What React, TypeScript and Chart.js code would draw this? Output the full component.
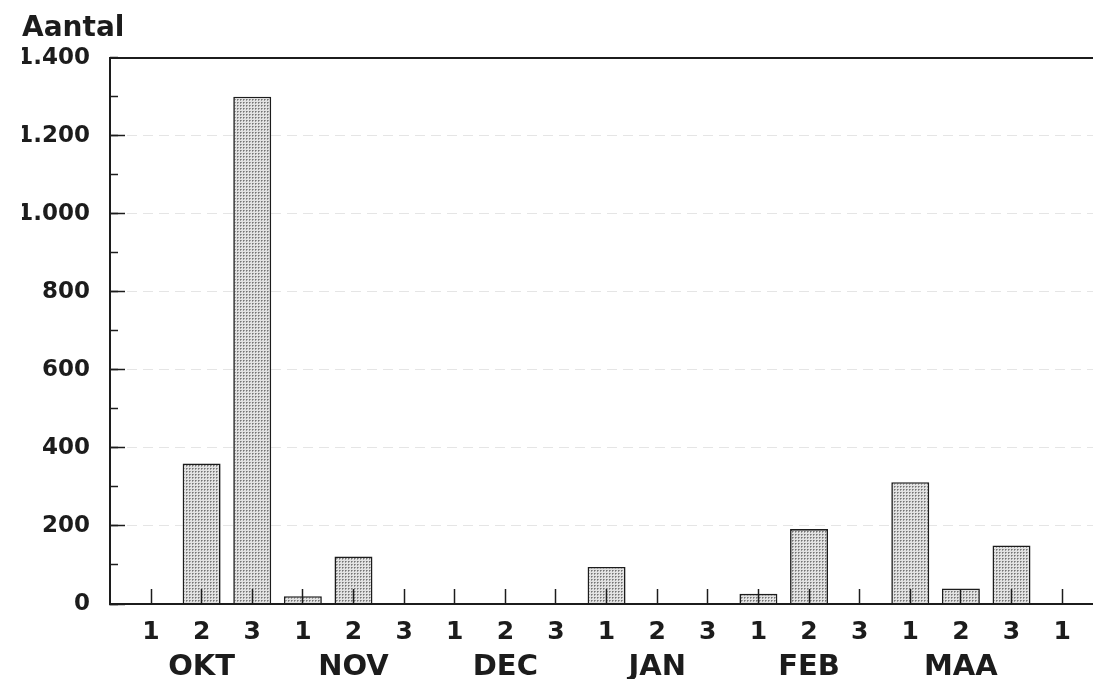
import React, { useEffect, useRef } from "react";
import { Chart, registerables } from "chart.js";

Chart.register(...registerables);

const decadeLabels = ["1", "2", "3", "1", "2", "3", "1", "2", "3", "1", "2", "3", "1", "2", "3", "1", "2", "3", "1"];
const monthLabels = ["OKT", "NOV", "DEC", "JAN", "FEB", "MAA"];
const counts = [0, 360, 1300, 20, 122, 0, 0, 0, 0, 95, 0, 0, 26, 192, 0, 312, 40, 150, 0];
const yMax = 1400;
const yMajorStep = 200;
const yMinorStep = 100;
const yTitle = "Aantal";

const FONT = "'DejaVu Sans', 'Liberation Sans', Arial, sans-serif";
const INK = "#1c1c1c";

function fmt(v: number): string {
  return String(Math.round(v)).replace(/\B(?=(\d{3})+(?!\d))/g, ".");
}

function makePattern(ctx: CanvasRenderingContext2D): CanvasPattern | string {
  const c = document.createElement("canvas");
  c.width = 3;
  c.height = 3;
  const p = c.getContext("2d");
  if (!p) return "#c0c0c0";
  p.fillStyle = "#e2e2e2";
  p.fillRect(0, 0, 3, 3);
  p.fillStyle = "#747474";
  p.fillRect(0, 0, 1, 1);
  p.fillStyle = "#9e9e9e";
  p.fillRect(1, 0, 1, 1);
  p.fillRect(0, 1, 1, 1);
  return ctx.createPattern(c, "repeat") || "#c0c0c0";
}

export default function App() {
  const ref = useRef<HTMLCanvasElement | null>(null);

  useEffect(() => {
    const canvas = ref.current;
    if (!canvas) return;
    const ctx = canvas.getContext("2d");
    if (!ctx) return;
    const pattern = makePattern(ctx);
    const n = decadeLabels.length;
    const xMin = -0.81;
    const xMax = n - 1 + 0.61;

    const chart = new Chart(ctx, {
      type: "bar",
      data: {
        datasets: [
          {
            data: counts.map((v, i) => ({ x: i, y: v })),
            backgroundColor: pattern as any,
            borderColor: INK,
            borderWidth: 1.6,
            barPercentage: 0.75,
            categoryPercentage: 1,
            xAxisID: "x",
            yAxisID: "y",
          },
        ],
      },
      options: {
        animation: false,
        responsive: false,
        devicePixelRatio: 1,
        layout: { padding: { left: 22, right: 0, top: 0, bottom: 0 } },
        plugins: {
          legend: { display: false },
          tooltip: { enabled: false },
          title: {
            display: true,
            text: yTitle,
            align: "start",
            color: INK,
            font: { family: FONT, size: 28, weight: "bold" },
            padding: { top: 12, bottom: 12 },
          },
        },
        scales: {
          x: {
            type: "linear",
            position: "bottom",
            weight: 0,
            min: xMin,
            max: xMax,
            offset: false,
            afterBuildTicks: (s: any) => {
              s.ticks = decadeLabels.map((_, i) => ({ value: i }));
            },
            afterFit: (s: any) => {
              s.height = 40;
              s.paddingLeft = 0;
              s.paddingRight = 0;
            },
            ticks: {
              autoSkip: false,
              maxRotation: 0,
              padding: 28,
              color: INK,
              font: { family: FONT, size: 25, weight: "bold" },
              callback: (v: any) => decadeLabels[Math.round(Number(v))] ?? "",
            },
            grid: {
              offset: false,
              drawOnChartArea: false,
              drawTicks: true,
              tickLength: -15,
              tickColor: INK,
              tickWidth: 1.5,
              z: 1,
            },
            border: { display: true, color: INK, width: 2, z: 1 },
          },
          xMonth: {
            type: "linear",
            position: "bottom",
            weight: 1,
            min: xMin,
            max: xMax,
            offset: false,
            afterBuildTicks: (s: any) => {
              s.ticks = monthLabels.map((_, m) => ({ value: m * 3 + 1 }));
            },
            afterFit: (s: any) => {
              s.height = 35;
              s.paddingLeft = 0;
              s.paddingRight = 0;
            },
            ticks: {
              autoSkip: false,
              maxRotation: 0,
              padding: 6,
              color: INK,
              font: { family: FONT, size: 29, weight: "bold" },
              callback: (v: any) => monthLabels[Math.round((Number(v) - 1) / 3)] ?? "",
            },
            grid: { display: false, drawTicks: false, tickLength: 0 },
            border: { display: false },
          },
          y: {
            type: "linear",
            position: "left",
            weight: 1,
            min: 0,
            max: yMax,
            afterBuildTicks: (s: any) => {
              const t = [];
              for (let v = 0; v <= yMax; v += yMajorStep) t.push({ value: v });
              s.ticks = t;
            },
            afterFit: (s: any) => {
              s.width = 88;
            },
            ticks: {
              autoSkip: false,
              padding: 35,
              color: INK,
              font: { family: FONT, size: 23, weight: "bold" },
              callback: (v: any) => fmt(Number(v)),
            },
            grid: {
              drawOnChartArea: true,
              drawTicks: true,
              tickLength: -15,
              tickColor: INK,
              tickWidth: 1.5,
              tickBorderDash: [],
              lineWidth: (c: any) => (c.tick && c.tick.value === yMax ? 2 : 1),
              color: (c: any) => {
                if (!c.tick) return "rgba(0,0,0,0)";
                if (c.tick.value === yMax) return INK;
                if (c.tick.value > 0) return "rgba(0,0,0,0.1)";
                return "rgba(0,0,0,0)";
              },
            },
            border: {
              display: true,
              color: INK,
              width: 2,
              dash: (c: any) => (c.tick && c.tick.value !== yMax ? [10, 6] : []),
            },
          },
          yMinor: {
            type: "linear",
            position: "left",
            weight: 0,
            min: 0,
            max: yMax,
            afterBuildTicks: (s: any) => {
              const t = [];
              for (let v = 0; v <= yMax; v += yMinorStep) t.push({ value: v });
              s.ticks = t;
            },
            afterFit: (s: any) => {
              s.width = 0;
            },
            ticks: { display: false },
            grid: {
              drawOnChartArea: false,
              drawTicks: true,
              tickLength: -8,
              tickColor: INK,
              tickWidth: 1.5,
            },
            border: { display: false },
          },
        },
      } as any,
    });

    return () => chart.destroy();
  }, []);

  return (
    <div style={{ position: "absolute", left: 0, top: 0, width: 1093, height: 679, background: "#fff" }}>
      <canvas ref={ref} width={1093} height={679} style={{ display: "block", width: 1093, height: 679 }} />
    </div>
  );
}
